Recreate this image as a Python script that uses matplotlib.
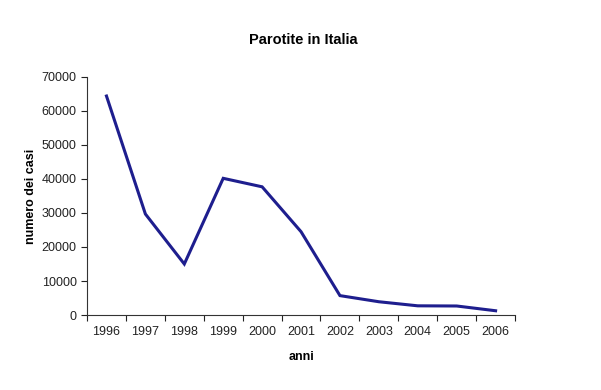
import numpy as np
import matplotlib.pyplot as plt

plt.rcParams['font.family'] = ['Liberation Sans', 'DejaVu Sans']

anni = ['1996', '1997', '1998', '1999', '2000', '2001', '2002', '2003', '2004', '2005', '2006']
casi = [64400, 29700, 15000, 40200, 37700, 24500, 5700, 3900, 2700, 2650, 1250]

fig = plt.figure(figsize=(6.01, 3.90), dpi=100)
ax = fig.add_axes([0.1448, 0.1923, 0.7122, 0.6103])

x = np.arange(len(anni))
ax.plot(x, casi, color='#1e1e8e', lw=2.2, solid_joinstyle='miter')

ax.set_xlim(-0.5, len(anni) - 0.5)
ax.set_ylim(0, 70000)
ax.set_yticks(range(0, 70001, 10000))
ax.set_yticklabels([str(v) for v in range(0, 70001, 10000)])

# tick marks on category edges, labels in the middle
ax.set_xticks(np.arange(-0.5, len(anni)), labels=[''] * (len(anni) + 1))
ax.set_xticks(x, labels=anni, minor=True)
ax.tick_params(axis='both', which='major', length=4, width=0.8, colors='#222222', labelsize=9)
ax.tick_params(axis='x', which='minor', length=0, pad=8, labelsize=9, labelcolor='#222222')

for s in ['top', 'right']:
    ax.spines[s].set_visible(False)
for s in ['left', 'bottom']:
    ax.spines[s].set_color('#333333')
    ax.spines[s].set_linewidth(0.8)

ax.set_xlabel('anni', fontsize=9, fontweight='bold', labelpad=9)
ax.set_ylabel('numero dei casi', fontsize=9, fontweight='bold', labelpad=3)
fig.text(0.504, 0.897, 'Parotite in Italia', ha='center', va='center', fontsize=10.5, fontweight='bold')

fig.savefig('out.png', dpi=100)
